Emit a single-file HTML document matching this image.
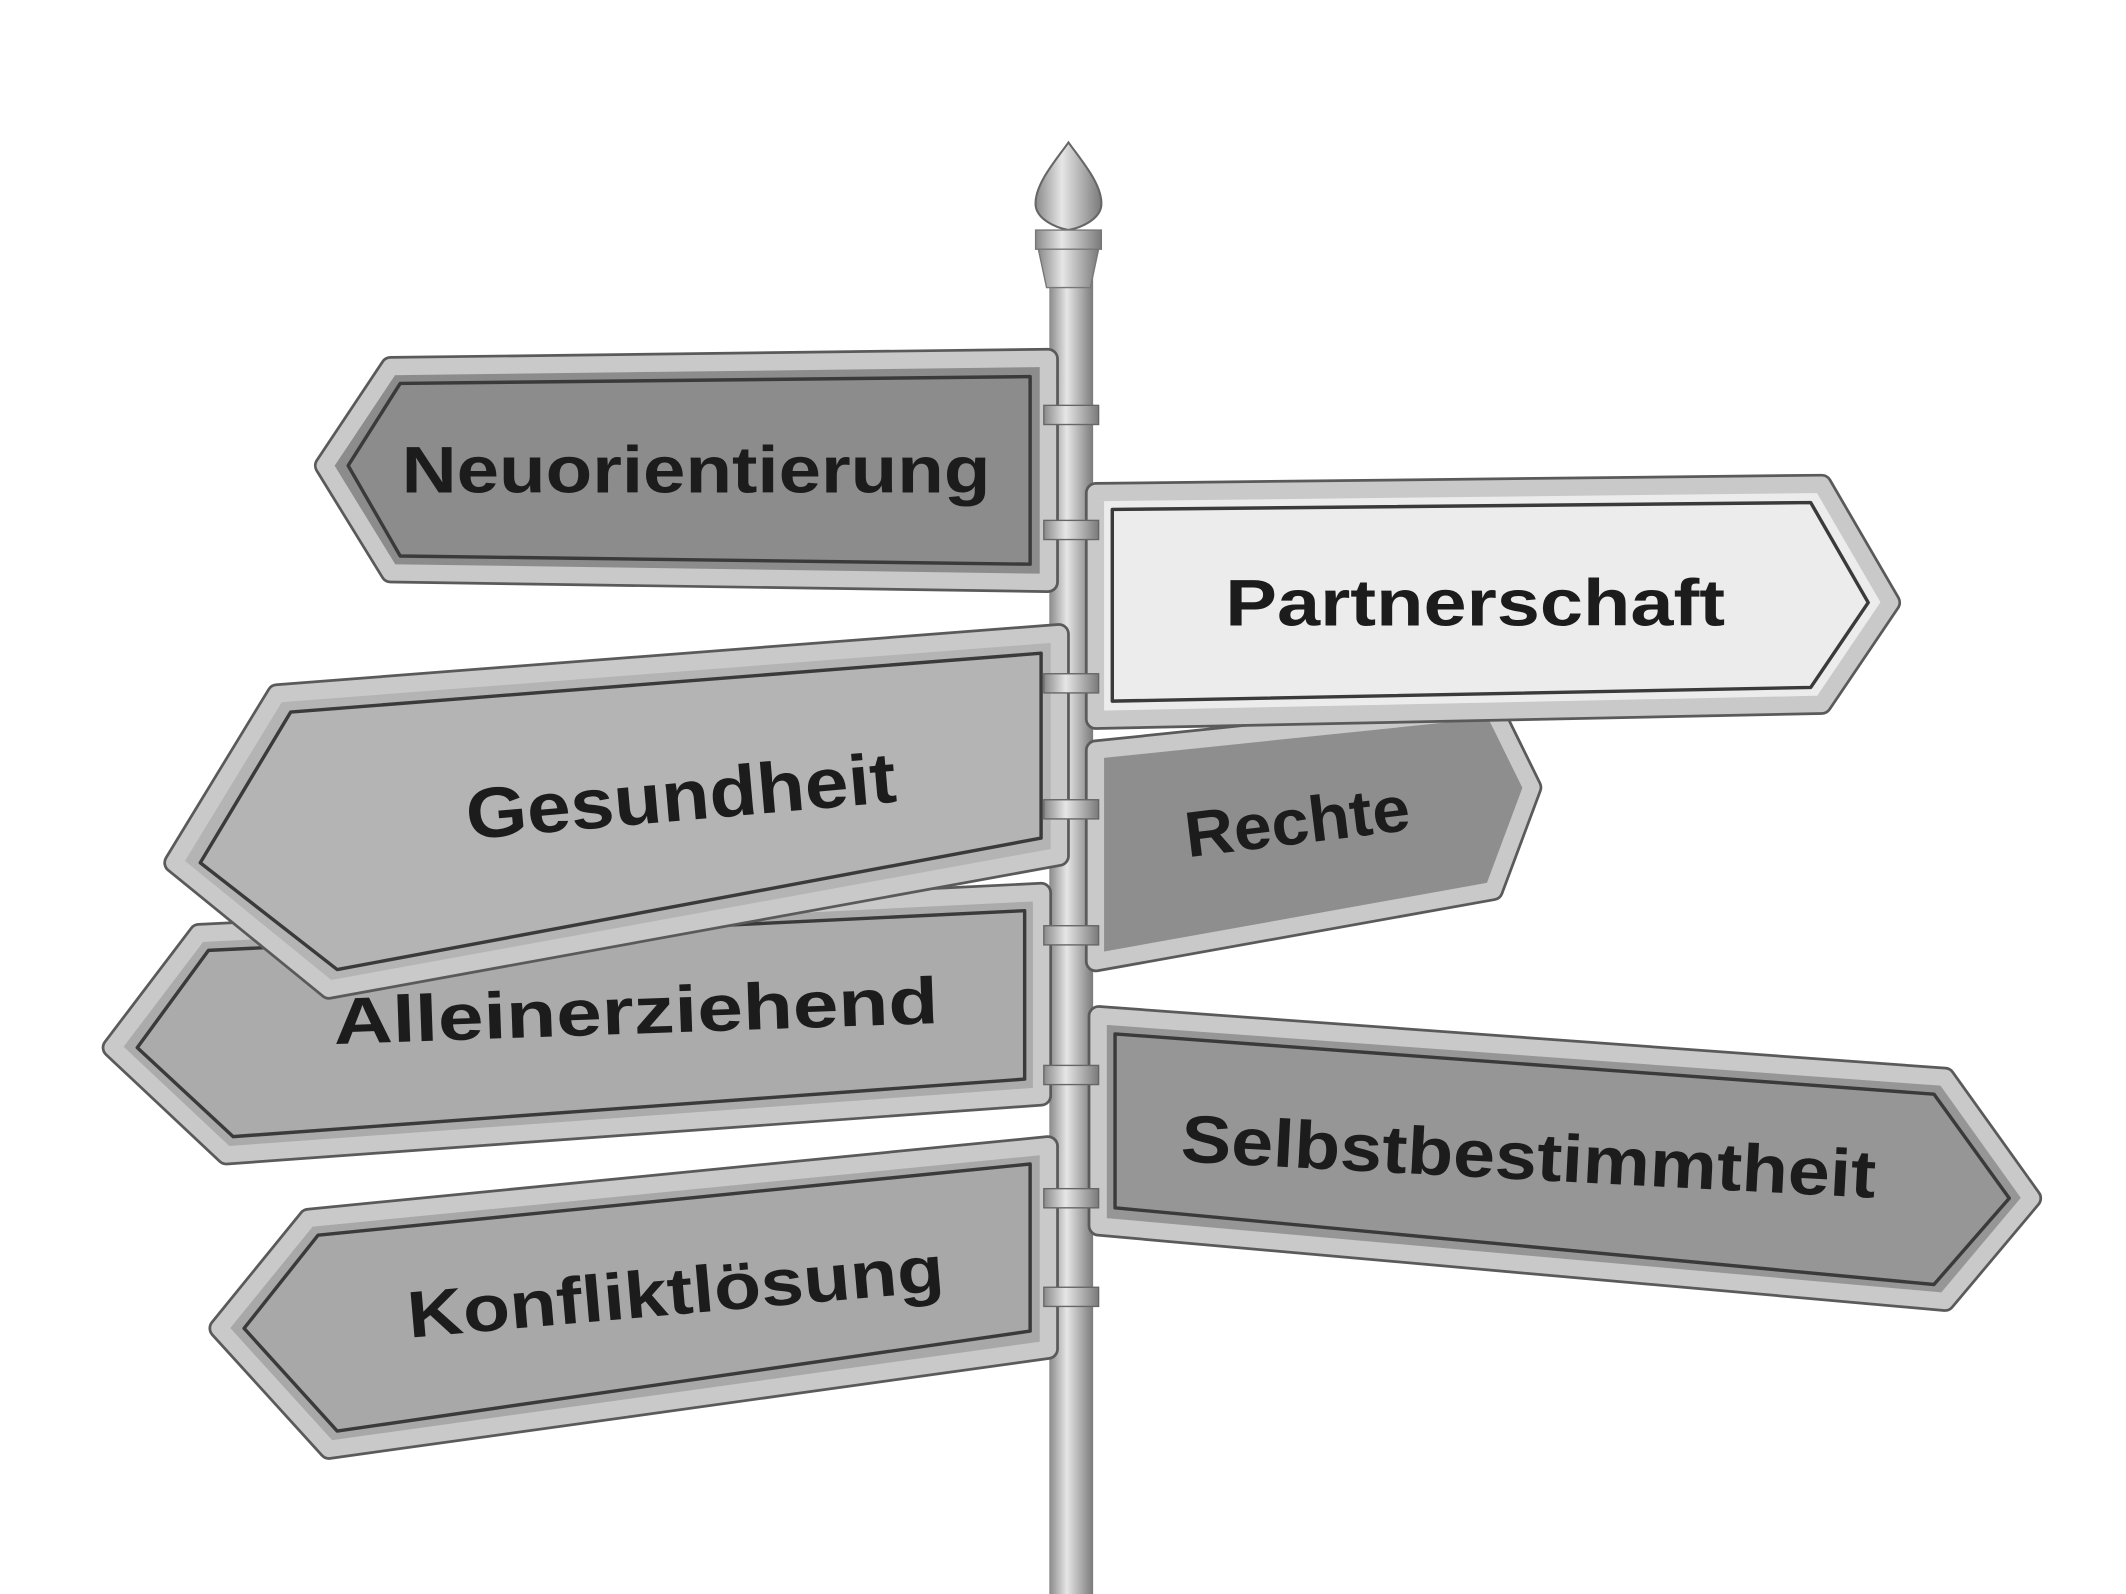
<!DOCTYPE html>
<html><head><meta charset="utf-8"><style>
html,body{margin:0;padding:0;background:#fff;}
svg{display:block}
text{font-family:"Liberation Sans",sans-serif;font-weight:bold;fill:#1c1c1c;text-anchor:middle;dominant-baseline:central;}
.o{stroke:#5a5a5a;stroke-width:16;stroke-linejoin:round}
.f{stroke:#c9c9c9;stroke-width:12;stroke-linejoin:round}
.i{fill:none;stroke:#3a3a3a;stroke-width:2.5;stroke-linejoin:round}
</style></head><body>
<svg width="2126" height="1594" viewBox="0 0 1552 1164" xmlns="http://www.w3.org/2000/svg">
<defs>
<linearGradient id="pole" x1="0" x2="1"><stop offset="0" stop-color="#8a8a8a"/><stop offset="0.4" stop-color="#e6e6e6"/><stop offset="1" stop-color="#7a7a7a"/></linearGradient>
</defs>
<rect x="766" y="190" width="32" height="974" fill="url(#pole)"/>
<path d="M780 104 C770 118 755 135 756 150 C757 160 770 166 780 168 C790 166 803 160 804 150 C805 135 790 118 780 104Z" fill="url(#pole)" stroke="#666" stroke-width="1.5"/>
<rect x="756" y="168" width="48" height="14" fill="url(#pole)" stroke="#777"/>
<path d="M758 182 L802 182 L796 210 L764 210Z" fill="url(#pole)" stroke="#777"/>

<polygon class="o" points="237,340 285,268 765,262 765,425 285,418"/>
<polygon class="f" fill="#8c8c8c" points="237,340 285,268 765,262 765,425 285,418"/>
<polygon class="i" points="254,340 292,280 752,275 752,412 292,406"/>
<text x="508" y="343" font-size="48" textLength="430" lengthAdjust="spacingAndGlyphs">Neuorientierung</text>

<polygon class="o" points="800,548 1090,518 1118,575 1090,650 800,702"/>
<polygon class="f" fill="#8e8e8e" points="800,548 1090,518 1118,575 1090,650 800,702"/>
<text x="947" y="600" font-size="47" transform="rotate(-7 947 600)" textLength="165" lengthAdjust="spacingAndGlyphs">Rechte</text>

<polygon class="o" points="800,360 1330,354 1380,440 1330,514 800,525"/>
<polygon class="f" fill="#ececec" points="800,360 1330,354 1380,440 1330,514 800,525"/>
<polygon class="i" points="812,372 1322,367 1364,440 1322,502 812,512"/>
<text x="1077" y="440" font-size="48" textLength="365" lengthAdjust="spacingAndGlyphs">Partnerschaft</text>

<polygon class="o" points="82,765 145,682 760,652 760,800 165,843"/>
<polygon class="f" fill="#ababab" points="82,765 145,682 760,652 760,800 165,843"/>
<polygon class="i" points="100,765 152,694 748,665 748,788 170,830"/>
<text x="464" y="738" font-size="48" transform="rotate(-2 464 738)" textLength="442" lengthAdjust="spacingAndGlyphs">Alleinerziehend</text>

<polygon class="o" points="127,630 202,507 773,463 773,625 240,722"/>
<polygon class="f" fill="#b4b4b4" points="127,630 202,507 773,463 773,625 240,722"/>
<polygon class="i" points="146,630 212,520 760,477 760,612 246,708"/>
<text x="497" y="582" font-size="52" transform="rotate(-5 497 582)" textLength="315" lengthAdjust="spacingAndGlyphs">Gesundheit</text>

<polygon class="o" points="802,742 1420,787 1483,875 1420,950 802,895"/>
<polygon class="f" fill="#969696" points="802,742 1420,787 1483,875 1420,950 802,895"/>
<polygon class="i" points="814,755 1412,799 1467,875 1412,938 814,882"/>
<text x="1116" y="845" font-size="49" transform="rotate(3 1116 845)" textLength="508" lengthAdjust="spacingAndGlyphs">Selbstbestimmtheit</text>

<polygon class="o" points="160,970 225,890 765,837 765,985 240,1058"/>
<polygon class="f" fill="#a8a8a8" points="160,970 225,890 765,837 765,985 240,1058"/>
<polygon class="i" points="178,970 232,902 752,850 752,972 246,1045"/>
<text x="493" y="943" font-size="48" transform="rotate(-5 493 943)" textLength="393" lengthAdjust="spacingAndGlyphs">Konfliktlösung</text>

<g fill="url(#pole)" stroke="#666" stroke-width="1">
<rect x="762" y="296" width="40" height="14"/><rect x="762" y="380" width="40" height="14"/>
<rect x="762" y="492" width="40" height="14"/><rect x="762" y="584" width="40" height="14"/>
<rect x="762" y="676" width="40" height="14"/><rect x="762" y="778" width="40" height="14"/>
<rect x="762" y="868" width="40" height="14"/><rect x="762" y="940" width="40" height="14"/>
</g>
</svg>
</body></html>
